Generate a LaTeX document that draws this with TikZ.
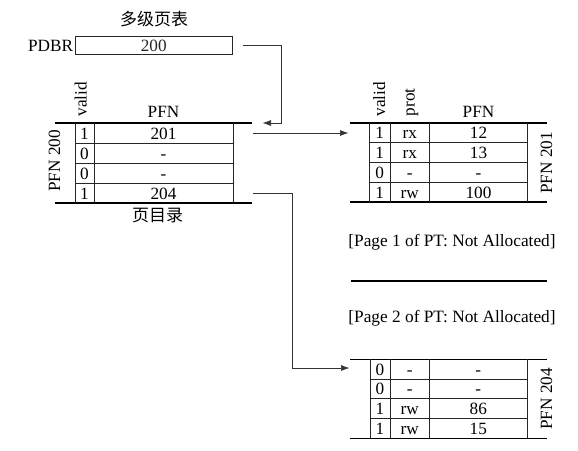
\documentclass[tikz,border=0pt]{standalone}
\usepackage{fontspec}
\setmainfont{Liberation Serif}
\newfontfamily\cjk{Noto Sans CJK SC}
\usetikzlibrary{positioning,arrows.meta}

\tikzset{
  rule/.style={line width=1.4pt},
  gridline/.style={line width=0.7pt, color=black!85},
  conn/.style={line width=0.7pt, color=black!80, -{Latex[length=8.5pt,width=6pt]}},
  cell/.style={inner sep=0pt, text height=12pt, text depth=0pt, font=\fontsize{17.2}{20}\selectfont},
  vcell/.style={cell, rotate=90},
  note/.style={inner sep=0pt, font=\fontsize{17.3}{20}\selectfont},
  cjknote/.style={inner sep=0pt, font=\cjk\fontsize{17}{20}\selectfont},
}

\begin{document}
\begin{tikzpicture}[x=1pt,y=1pt,yscale=-1,xscale=1]
        \useasboundingbox (0,0) rectangle (578,450);
        % PDBR
        \node[cjknote] (title) at (154,19) {多级页表};
        \node[cell, draw, gridline, minimum width=157.3pt, minimum height=18.3pt] (pdbr) at (153.7,45) {200};
        \node[cell, left=1.5pt of pdbr] (pdbrlbl) {PDBR};
        % page directory (PFN 200)
        \draw[rule] (55,123) -- (252,123) ;
        \draw[rule] (55,203) -- (252,203) ;
        \draw[gridline] (75,123) -- (75,203) ;
        \draw[gridline] (94,123) -- (94,203) ;
        \draw[gridline] (233,123) -- (233,203) ;
        \draw[gridline] (75,143) -- (233,143) ;
        \draw[gridline] (75,163) -- (233,163) ;
        \draw[gridline] (75,183) -- (233,183) ;
        \node[vcell, anchor=west] (dvalid) at (80.7,116.5) {valid};
        \node[cell] (dpfn) at (163.5,111) {PFN};
        \node[vcell] (dname) at (54,161) {PFN 200};
        \node[cjknote] (dlbl) at (157.5,216) {页目录};
        \node[cell] (dv1) at (84.5,133) {1};
        \node[cell] (dv2) at (84.5,153) {0};
        \node[cell] (dv3) at (84.5,173) {0};
        \node[cell] (dv4) at (84.5,193) {1};
        \node[cell] (dp1) at (163.5,133) {201};
        \node[cell] (dp2) at (163.5,153) {-};
        \node[cell] (dp3) at (163.5,173) {-};
        \node[cell] (dp4) at (163.5,193) {204};
        % page of PT (PFN 201)
        \draw[rule] (350,123) -- (547,123) ;
        \draw[rule] (350,202) -- (547,202) ;
        \draw[gridline] (369.5,123) -- (369.5,202) ;
        \draw[gridline] (390,123) -- (390,202) ;
        \draw[gridline] (429.5,123) -- (429.5,202) ;
        \draw[gridline] (527.5,123) -- (527.5,202) ;
        \draw[gridline] (369.5,142.75) -- (527.5,142.75) ;
        \draw[gridline] (369.5,162.5) -- (527.5,162.5) ;
        \draw[gridline] (369.5,182.25) -- (527.5,182.25) ;
        \node[vcell, anchor=west] (avalid) at (379,116.5) {valid};
        \node[vcell, anchor=west] (aprot) at (408.5,116.5) {prot};
        \node[cell] (apfn) at (478.5,111) {PFN};
        \node[vcell] (aname) at (546,163) {PFN 201};
        \node[cell] (av1) at (379.75,132.9) {1};
        \node[cell] (av2) at (379.75,152.6) {1};
        \node[cell] (av3) at (379.75,172.4) {0};
        \node[cell] (av4) at (379.75,192.1) {1};
        \node[cell] (ar1) at (409.75,132.9) {rx};
        \node[cell] (ar2) at (409.75,152.6) {rx};
        \node[cell] (ar3) at (409.75,172.4) {-};
        \node[cell] (ar4) at (409.75,192.1) {rw};
        \node[cell] (ap1) at (478.5,132.9) {12};
        \node[cell] (ap2) at (478.5,152.6) {13};
        \node[cell] (ap3) at (478.5,172.4) {-};
        \node[cell] (ap4) at (478.5,192.1) {100};
        % pages not allocated
        \node[note] (pg1) at (452,242) {[Page 1 of PT: Not Allocated]};
        \draw[rule] (351,281) -- (547,281) ;
        \node[note] (pg2) at (452,318) {[Page 2 of PT: Not Allocated]};
        % page of PT (PFN 204)
        \draw[rule] (350,359.3) -- (547,359.3) ;
        \draw[rule] (350,438.3) -- (547,438.3) ;
        \draw[gridline] (370,359.3) -- (370,438.3) ;
        \draw[gridline] (390,359.3) -- (390,438.3) ;
        \draw[gridline] (429.3,359.3) -- (429.3,438.3) ;
        \draw[gridline] (527.3,359.3) -- (527.3,438.3) ;
        \draw[gridline] (370,379) -- (527.3,379) ;
        \draw[gridline] (370,398.8) -- (527.3,398.8) ;
        \draw[gridline] (370,418.5) -- (527.3,418.5) ;
        \node[vcell] (bname) at (546,399) {PFN 204};
        \node[cell] (bv1) at (380,369.2) {0};
        \node[cell] (bv2) at (380,388.9) {0};
        \node[cell] (bv3) at (380,408.7) {1};
        \node[cell] (bv4) at (380,428.4) {1};
        \node[cell] (br1) at (409.7,369.2) {-};
        \node[cell] (br2) at (409.7,388.9) {-};
        \node[cell] (br3) at (409.7,408.7) {rw};
        \node[cell] (br4) at (409.7,428.4) {rw};
        \node[cell] (bp1) at (478.3,369.2) {-};
        \node[cell] (bp2) at (478.3,388.9) {-};
        \node[cell] (bp3) at (478.3,408.7) {86};
        \node[cell] (bp4) at (478.3,428.4) {15};
        % connectors
        \coordinate (dirin) at (262.5,123);
        \coordinate (d1out) at (253,133);
        \coordinate (d4out) at (253,193);
        \coordinate (p201in) at (348.5,133);
        \coordinate (p204in) at (349.5,368);
        \draw[conn] ([xshift=10.5pt]pdbr.east) -| ([xshift=19pt]dirin) -- (dirin) ;
        \draw[conn] (d1out) -- (p201in) ;
        \draw[conn] (d4out) -| ([xshift=-57.5pt]p204in) -- (p204in) ;
\end{tikzpicture}
\end{document}
